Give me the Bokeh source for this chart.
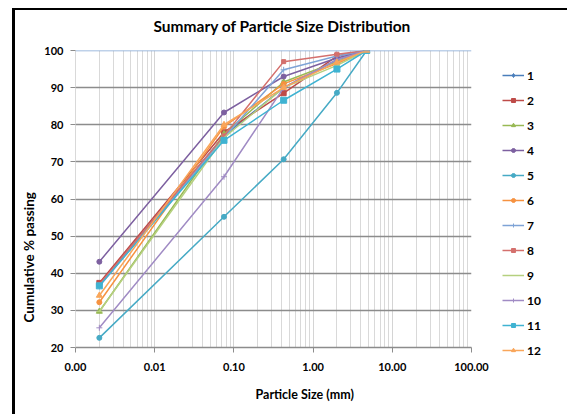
from bokeh.plotting import figure
from bokeh.layouts import row
from bokeh.models import FixedTicker, Legend, LegendItem, Title, Span
from bokeh.embed import file_html
from bokeh.resources import INLINE

# ---- data ----
sizes = [0.002, 0.075, 0.425, 2.0, 4.75]
series_names = ["1", "2", "3", "4", "5", "6", "7", "8", "9", "10", "11", "12"]
s1 = [37.0, 77.0, 90.0, 97.5, 100.0]
s2 = [37.4, 78.0, 88.5, 98.5, 100.0]
s3 = [29.7, 77.5, 91.5, 97.0, 100.0]
s4 = [43.1, 83.3, 93.0, 98.0, 100.0]
s5 = [22.6, 55.2, 70.7, 88.6, 100.0]
s6 = [32.2, 79.5, 91.0, 96.5, 100.0]
s7 = [36.5, 76.5, 94.8, 98.5, 100.0]
s8 = [37.0, 77.0, 97.0, 99.0, 100.0]
s9 = [29.7, 76.5, 90.0, 96.0, 100.0]
s10 = [25.3, 66.0, 90.0, 97.5, 100.0]
s11 = [36.6, 75.8, 86.6, 95.0, 100.0]
s12 = [34.0, 80.0, 90.0, 96.8, 100.0]
x_ticks = [0.001, 0.01, 0.1, 1, 10, 100]
x_tick_labels = ["0.00", "0.01", "0.10", "1.00", "10.00", "100.00"]
y_ticks = [20, 30, 40, 50, 60, 70, 80, 90, 100]

values = [s1, s2, s3, s4, s5, s6, s7, s8, s9, s10, s11, s12]
colors = ["#4A7EBB", "#BE4B48", "#98B954", "#7D60A0", "#46AAC5", "#F69240",
          "#7EA3D6", "#D4706D", "#B5D07F", "#A08BC4", "#3FB3D2", "#F9A65A"]
markers = ["diamond", "square", "triangle", "circle", "circle", "circle",
           "cross", "square", "dash", "cross", "square", "triangle"]
msizes = [7, 5, 6, 5, 5, 5, 6, 4, 6, 6, 6, 6]

FONT = "Lato"

p = figure(width=500, height=414, x_axis_type="log",
           x_range=(0.001, 100), y_range=(20, 100),
           output_backend="svg", toolbar_location=None,
           min_border_left=75, min_border_right=29,
           min_border_top=50, min_border_bottom=67)
p.outline_line_color = None
p.background_fill_color = "white"
p.border_fill_color = None
# black frame of the chart area (left and top edges), painted behind the canvas
p.styles = {"background": "linear-gradient(#000, #000) 12px 8px / 3px 100% no-repeat, "
                          "linear-gradient(#000, #000) 12px 8px / 100% 2px no-repeat, #fff"}

# chart title
p.add_layout(Title(text="Summary of Particle Size Distribution", align="left", offset=78,
                   vertical_align="top", standoff=28,
                   text_font=FONT, text_font_size="15.5px", text_font_style="bold",
                   text_color="black"), "above")

# axes
minor = [k * 10.0 ** e for e in range(-3, 2) for k in range(2, 10)]
p.xaxis.ticker = FixedTicker(ticks=x_ticks, minor_ticks=minor)
p.xaxis.major_label_overrides = {v: l for v, l in zip(x_ticks, x_tick_labels)}
p.yaxis.ticker = FixedTicker(ticks=y_ticks)
for ax in (p.xaxis[0], p.yaxis[0]):
    ax.major_label_text_font = FONT
    ax.major_label_text_font_size = "11px"
    ax.major_label_text_font_style = "bold"
    ax.major_label_text_color = "black"
    ax.minor_tick_line_color = None
    ax.major_tick_in = 0
    ax.major_tick_out = 5
    ax.major_tick_line_color = "#8C8C8C"
p.xaxis.axis_line_color = "#8C8C8C"
p.xaxis.axis_line_width = 1.5
p.xaxis.major_label_standoff = 10
p.yaxis.axis_line_color = "#D9D9D9"
p.yaxis.major_label_standoff = 7

p.add_layout(Title(text="Particle Size (mm)", align="left", offset=180,
                   vertical_align="bottom", standoff=22,
                   text_font=FONT, text_font_size="12.5px", text_font_style="bold",
                   text_color="black"), "below")
p.add_layout(Title(text="Cumulative % passing", align="left", offset=25,
                   vertical_align="bottom", standoff=10,
                   text_font=FONT, text_font_size="13.5px", text_font_style="bold",
                   text_color="black"), "left")

# grids
p.ygrid.grid_line_color = "#8C8C8C"
p.ygrid.grid_line_width = 1.5
p.xgrid.grid_line_color = "#D4D4D4"
p.xgrid.minor_grid_line_color = "#D9D9D9"
p.add_layout(Span(location=100, dimension="width", line_color="#7FA3D3", line_width=1.5))

for vals, c, m, ms in zip(values, colors, markers, msizes):
    p.line(sizes, vals, line_color=c, line_width=1.5)
    p.scatter(sizes, vals, marker=m, size=ms, fill_color=c, line_color=c)

# legend panel: a narrow figure to the right of the plot with a 1px plot area,
# the legend sits in its right-hand side panel
lf = figure(frame_width=1, height=414, x_range=(-2, -1), y_range=(-2, -1),
            output_backend="svg", toolbar_location=None,
            x_axis_location=None, y_axis_location=None,
            min_border_left=0, min_border_right=66, min_border_top=0, min_border_bottom=0)
lf.outline_line_color = None
lf.background_fill_color = None
lf.border_fill_color = None
lf.grid.visible = False
lf.styles = {"background": "linear-gradient(#000, #000) 0 8px / 100% 2px no-repeat, #fff"}

items = []
for name, vals, c, m, ms in zip(series_names, values, colors, markers, msizes):
    lr = lf.line(sizes, vals, line_color=c, line_width=1.5)
    sr = lf.scatter(sizes, vals, marker=m, size=ms, fill_color=c, line_color=c)
    items.append(LegendItem(label=name, renderers=[lr, sr]))

legend = Legend(items=items, location=(1, -13), padding=0, margin=0,
                glyph_width=22, glyph_height=10, label_height=20, spacing=5,
                label_standoff=3, label_text_font=FONT, label_text_font_size="12px",
                label_text_font_style="bold", label_text_color="black",
                border_line_color=None, background_fill_alpha=0)
lf.add_layout(legend, "right")

layout = row(p, lf, spacing=0)
open("out.html", "w").write(file_html(layout, INLINE))
